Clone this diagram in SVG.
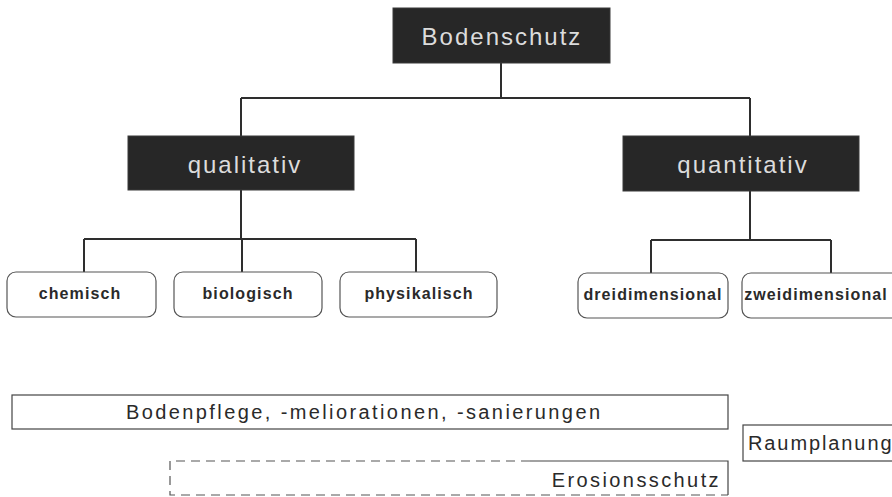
<svg xmlns="http://www.w3.org/2000/svg" width="892" height="497" viewBox="0 0 892 497">
<style>
.dark{fill:#272727;stroke:#3a3a3a;stroke-width:1}
.dt{font-family:"Liberation Sans",Arial,sans-serif;font-size:24px;fill:#dcdcdc;letter-spacing:2px;text-anchor:middle}
.rb{fill:#fff;stroke:#555;stroke-width:1.2}
.ct{font-family:"Liberation Sans",Arial,sans-serif;font-size:16px;font-weight:bold;fill:#2a2a2a;letter-spacing:1.1px;text-anchor:middle}
.bb{fill:#fff;stroke:#444;stroke-width:1.2}
.bt{font-family:"Liberation Sans",Arial,sans-serif;font-size:20px;fill:#2a2a2a;letter-spacing:2.4px}
.con{fill:none;stroke:#2e2e2e;stroke-width:2}
</style>
<rect width="892" height="497" fill="#fff"/>
<g id="connectors">
<path class="con" d="M501,63 V98 M241,98 H750 M241,98 V136 M750,98 V136"/>
<path class="con" d="M241,190 V239 M84,239 H416 M84,239 V272 M242,239 V272 M416,239 V272"/>
<path class="con" d="M750,191 V240 M651,240 H831 M651,240 V273 M831,240 V273"/>
</g>
<g id="bodenschutz">
<rect class="dark" x="393" y="8" width="217" height="55"/>
<text class="dt" x="502" y="45">Bodenschutz</text>
</g>
<g id="qualitativ">
<rect class="dark" x="128" y="136" width="226" height="54"/>
<text class="dt" x="245" y="173">qualitativ</text>
</g>
<g id="quantitativ">
<rect class="dark" x="623" y="136" width="236" height="55"/>
<text class="dt" x="743" y="173">quantitativ</text>
</g>
<g id="chemisch">
<rect class="rb" x="7" y="272" width="149" height="45" rx="9"/>
<text class="ct" x="80" y="299">chemisch</text>
</g>
<g id="biologisch">
<rect class="rb" x="174" y="272" width="148" height="45" rx="9"/>
<text class="ct" x="248" y="299">biologisch</text>
</g>
<g id="physikalisch">
<rect class="rb" x="340" y="272" width="157" height="45" rx="9"/>
<text class="ct" x="419" y="299">physikalisch</text>
</g>
<g id="dreidimensional">
<rect class="rb" x="578" y="273" width="150" height="45" rx="9"/>
<text class="ct" x="653" y="300">dreidimensional</text>
</g>
<g id="zweidimensional">
<rect class="rb" x="742" y="273" width="160" height="45" rx="9"/>
<text class="ct" x="816" y="300">zweidimensional</text>
</g>
<g id="bodenpflege">
<rect class="bb" x="12" y="395" width="716" height="34"/>
<text class="bt" x="126" y="419">Bodenpflege, -meliorationen, -sanierungen</text>
</g>
<g id="raumplanung">
<rect class="bb" x="743" y="425" width="160" height="36"/>
<text class="bt" x="748" y="450" style="letter-spacing:1.9px">Raumplanung</text>
</g>
<g id="erosionsschutz">
<path fill="none" stroke="#555" stroke-width="1.2" stroke-dasharray="9,6" d="M530,461 H170 V495 H728"/>
<path fill="none" stroke="#444" stroke-width="1.2" d="M530,461 H728 V495"/>
<text class="bt" x="721" y="487" text-anchor="end" style="letter-spacing:2.4px">Erosionsschutz</text>
</g>
</svg>
